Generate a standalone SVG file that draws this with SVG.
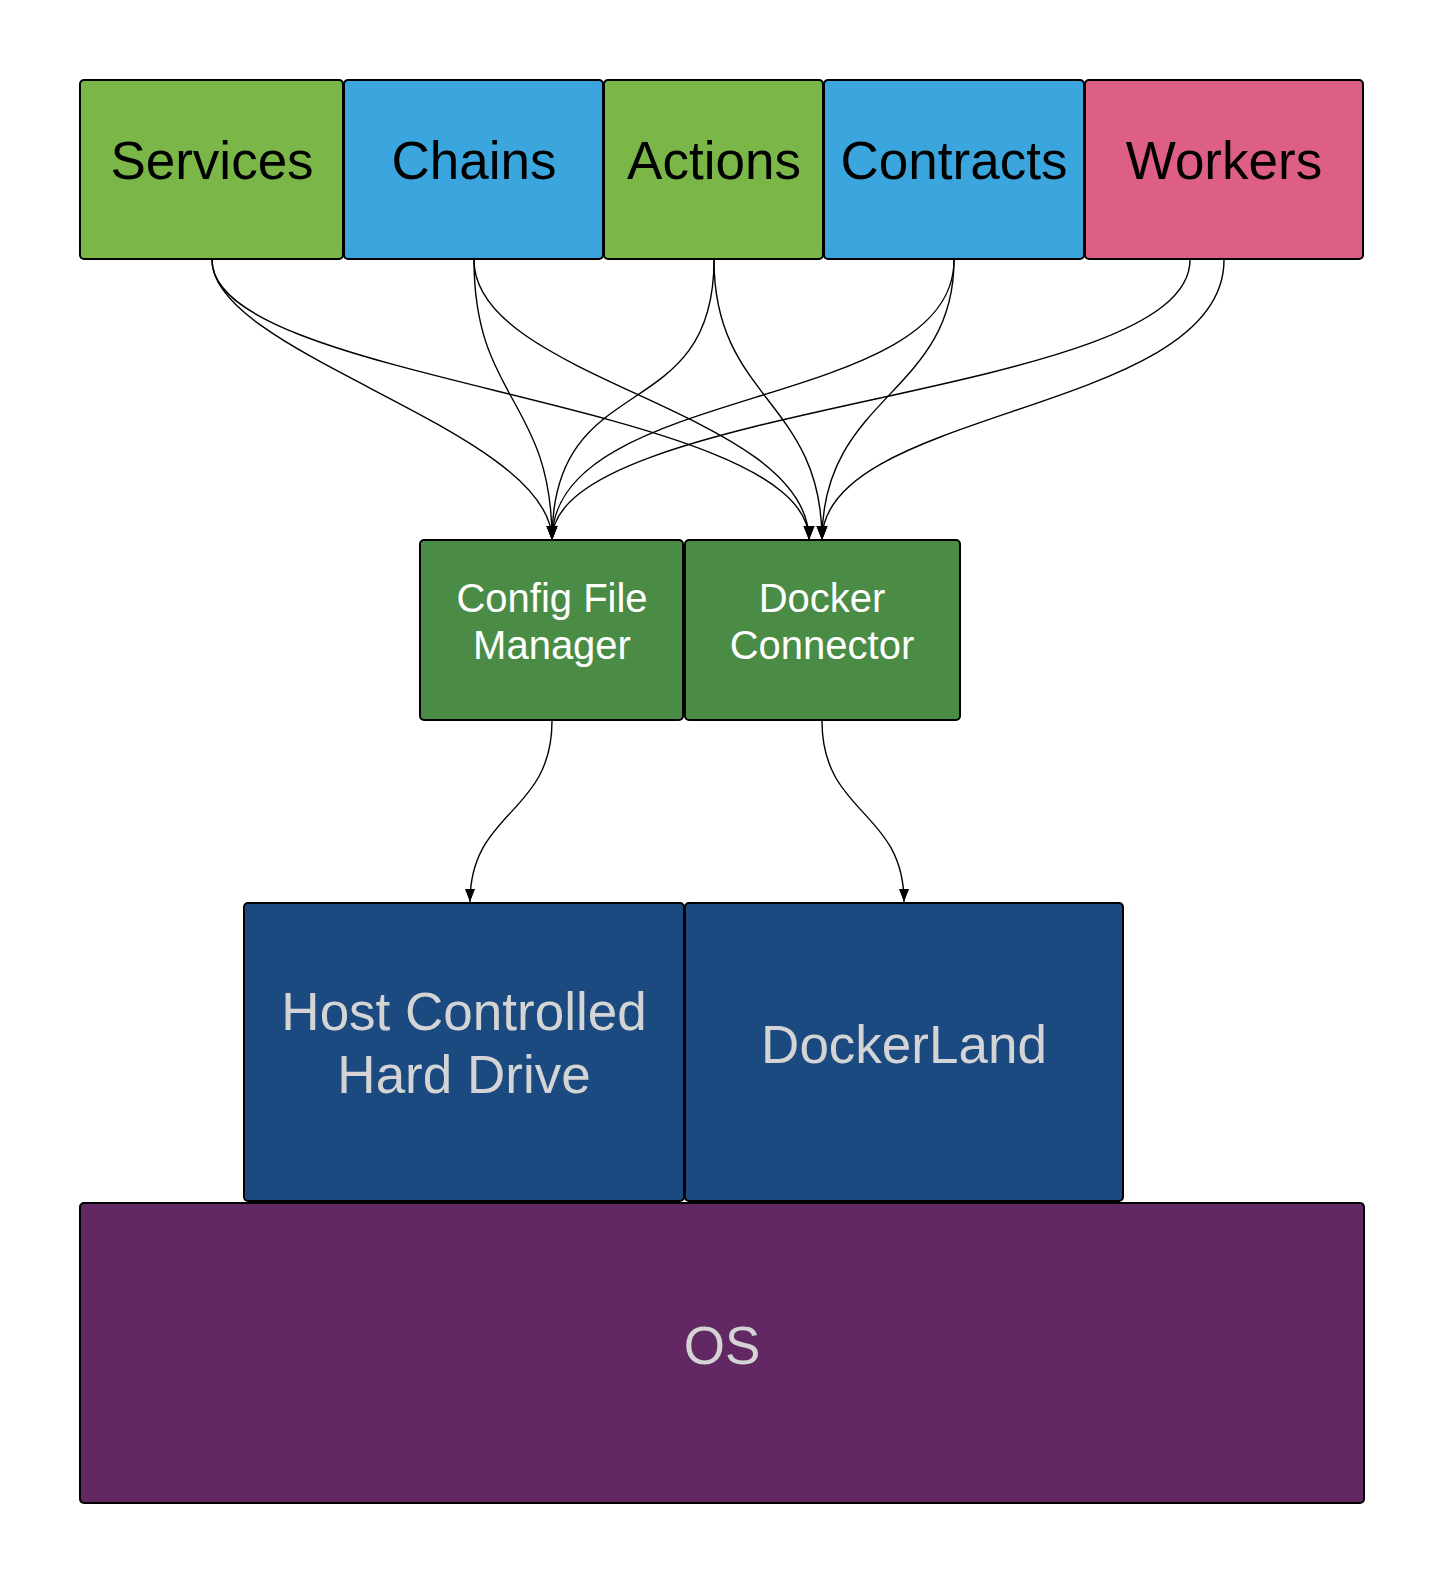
<svg xmlns="http://www.w3.org/2000/svg" width="1443" height="1580" viewBox="0 0 1443 1580">
<style>
.box{stroke:#000;stroke-width:2}
.t{font-family:"Liberation Sans",Arial,sans-serif;text-anchor:middle}
.top{font-size:53px;fill:#000}
.mid{font-size:40px;fill:#fff}
.low{font-size:53px;fill:#d4d4d4}
.c{fill:none;stroke:#000;stroke-width:1.4}
</style>
<defs>
<marker id="arr" markerUnits="userSpaceOnUse" markerWidth="15" markerHeight="12" refX="14" refY="5.5" orient="auto">
<path d="M0,0 L14,5.5 L0,11 z" fill="#000"/>
</marker>
<marker id="arr2" markerUnits="userSpaceOnUse" markerWidth="14" markerHeight="11" refX="13" refY="5" orient="auto">
<path d="M0,0 L13,5 L0,10 z" fill="#000"/>
</marker>
</defs>
<rect width="1443" height="1580" fill="#fff"/>
<g id="services"><rect class="box" x="80" y="80" width="263" height="179" rx="4" fill="#7ab648"/><text class="t top" x="212" y="179">Services</text></g>
<g id="chains"><rect class="box" x="344" y="80" width="259" height="179" rx="4" fill="#3ba6de"/><text class="t top" x="474" y="179">Chains</text></g>
<g id="actions"><rect class="box" x="604" y="80" width="219" height="179" rx="4" fill="#7ab648"/><text class="t top" x="714" y="179">Actions</text></g>
<g id="contracts"><rect class="box" x="824" y="80" width="260" height="179" rx="4" fill="#3ba6de"/><text class="t top" x="954" y="179">Contracts</text></g>
<g id="workers"><rect class="box" x="1085" y="80" width="278" height="179" rx="4" fill="#de5f85"/><text class="t top" x="1224" y="179">Workers</text></g>
<g id="config"><rect class="box" x="420" y="540" width="263" height="180" rx="4" fill="#4a8c45"/><text class="t mid" x="552" y="612">Config File</text><text class="t mid" x="552" y="659">Manager</text></g>
<g id="docker"><rect class="box" x="685" y="540" width="275" height="180" rx="4" fill="#4a8c45"/><text class="t mid" x="822" y="612">Docker</text><text class="t mid" x="822" y="659">Connector</text></g>
<g id="host"><rect class="box" x="244" y="903" width="440" height="298" rx="4" fill="#1b4a80"/><text class="t low" x="464" y="1030">Host Controlled</text><text class="t low" x="464" y="1093">Hard Drive</text></g>
<g id="dockerland"><rect class="box" x="685" y="903" width="438" height="298" rx="4" fill="#1b4a80"/><text class="t low" x="904" y="1063">DockerLand</text></g>
<g id="os"><rect class="box" x="80" y="1203" width="1284" height="300" rx="4" fill="#622863"/><text class="t low" x="722" y="1364">OS</text></g>
<g id="connectors">
<path class="c" marker-end="url(#arr)" d="M212,260 C212,355 552,430 552,540"/>
<path class="c" marker-end="url(#arr)" d="M212,260 C212,385 809,400 809,540"/>
<path class="c" marker-end="url(#arr)" d="M474,260 C474,400 552,400 552,540"/>
<path class="c" marker-end="url(#arr)" d="M474,260 C474,380 809,410 809,540"/>
<path class="c" marker-end="url(#arr)" d="M714,260 C714,430 552,365 552,540"/>
<path class="c" marker-end="url(#arr)" d="M714,260 C714,400 822,400 822,540"/>
<path class="c" marker-end="url(#arr)" d="M954,260 C954,413 552,382 552,540"/>
<path class="c" marker-end="url(#arr)" d="M954,260 C954,395 822,395 822,540"/>
<path class="c" marker-end="url(#arr)" d="M1190,260 C1190,400 552,400 552,540"/>
<path class="c" marker-end="url(#arr)" d="M1224,260 C1224,414 822,407 822,540"/>
<path class="c" marker-end="url(#arr2)" d="M552,721 C552,815 470,810 470,902"/>
<path class="c" marker-end="url(#arr2)" d="M822,721 C822,815 904,810 904,902"/>
</g>
</svg>
